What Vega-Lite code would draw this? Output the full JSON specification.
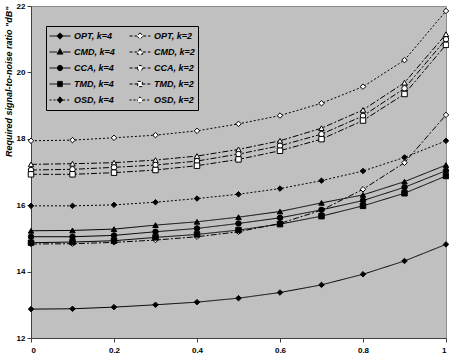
{
  "$schema": "https://vega.github.io/schema/vega-lite/v6.json",
  "width": 415,
  "height": 332,
  "autosize": "none",
  "padding": {"left": 31, "top": 6, "right": 3, "bottom": 21},
  "background": "white",
  "config": {
    "font": "Liberation Sans",
    "view": {"fill": "#C0C0C0", "stroke": "#8C8C8C"},
    "axis": {"grid": false, "domainColor": "#404040", "tickColor": "#404040", "labelFont": "Liberation Sans", "labelFontWeight": "bold", "labelFontSize": 8, "labelColor": "black", "tickSize": 4}
  },
  "data": {"values": [
    {"x":0,"v":12.87,"s":"OPT, k=4"},{"x":0.1,"v":12.88,"s":"OPT, k=4"},{"x":0.2,"v":12.93,"s":"OPT, k=4"},{"x":0.3,"v":13.0,"s":"OPT, k=4"},{"x":0.4,"v":13.08,"s":"OPT, k=4"},{"x":0.5,"v":13.2,"s":"OPT, k=4"},{"x":0.6,"v":13.37,"s":"OPT, k=4"},{"x":0.7,"v":13.6,"s":"OPT, k=4"},{"x":0.8,"v":13.92,"s":"OPT, k=4"},{"x":0.9,"v":14.32,"s":"OPT, k=4"},{"x":1,"v":14.82,"s":"OPT, k=4"},
    {"x":0,"v":14.83,"s":"OPT, k=2"},{"x":0.1,"v":14.84,"s":"OPT, k=2"},{"x":0.2,"v":14.88,"s":"OPT, k=2"},{"x":0.3,"v":14.95,"s":"OPT, k=2"},{"x":0.4,"v":15.05,"s":"OPT, k=2"},{"x":0.5,"v":15.2,"s":"OPT, k=2"},{"x":0.6,"v":15.45,"s":"OPT, k=2"},{"x":0.7,"v":15.85,"s":"OPT, k=2"},{"x":0.8,"v":16.48,"s":"OPT, k=2"},{"x":0.9,"v":17.28,"s":"OPT, k=2"},{"x":1,"v":18.72,"s":"OPT, k=2"},
    {"x":0,"v":15.23,"s":"CMD, k=4"},{"x":0.1,"v":15.24,"s":"CMD, k=4"},{"x":0.2,"v":15.28,"s":"CMD, k=4"},{"x":0.3,"v":15.4,"s":"CMD, k=4"},{"x":0.4,"v":15.5,"s":"CMD, k=4"},{"x":0.5,"v":15.64,"s":"CMD, k=4"},{"x":0.6,"v":15.81,"s":"CMD, k=4"},{"x":0.7,"v":16.07,"s":"CMD, k=4"},{"x":0.8,"v":16.31,"s":"CMD, k=4"},{"x":0.9,"v":16.71,"s":"CMD, k=4"},{"x":1,"v":17.21,"s":"CMD, k=4"},
    {"x":0,"v":17.23,"s":"CMD, k=2"},{"x":0.1,"v":17.25,"s":"CMD, k=2"},{"x":0.2,"v":17.28,"s":"CMD, k=2"},{"x":0.3,"v":17.36,"s":"CMD, k=2"},{"x":0.4,"v":17.48,"s":"CMD, k=2"},{"x":0.5,"v":17.68,"s":"CMD, k=2"},{"x":0.6,"v":17.94,"s":"CMD, k=2"},{"x":0.7,"v":18.32,"s":"CMD, k=2"},{"x":0.8,"v":18.87,"s":"CMD, k=2"},{"x":0.9,"v":19.69,"s":"CMD, k=2"},{"x":1,"v":21.15,"s":"CMD, k=2"},
    {"x":0,"v":15.05,"s":"CCA, k=4"},{"x":0.1,"v":15.05,"s":"CCA, k=4"},{"x":0.2,"v":15.09,"s":"CCA, k=4"},{"x":0.3,"v":15.2,"s":"CCA, k=4"},{"x":0.4,"v":15.3,"s":"CCA, k=4"},{"x":0.5,"v":15.45,"s":"CCA, k=4"},{"x":0.6,"v":15.62,"s":"CCA, k=4"},{"x":0.7,"v":15.86,"s":"CCA, k=4"},{"x":0.8,"v":16.14,"s":"CCA, k=4"},{"x":0.9,"v":16.54,"s":"CCA, k=4"},{"x":1,"v":17.04,"s":"CCA, k=4"},
    {"x":0,"v":17.06,"s":"CCA, k=2"},{"x":0.1,"v":17.08,"s":"CCA, k=2"},{"x":0.2,"v":17.14,"s":"CCA, k=2"},{"x":0.3,"v":17.21,"s":"CCA, k=2"},{"x":0.4,"v":17.33,"s":"CCA, k=2"},{"x":0.5,"v":17.54,"s":"CCA, k=2"},{"x":0.6,"v":17.79,"s":"CCA, k=2"},{"x":0.7,"v":18.14,"s":"CCA, k=2"},{"x":0.8,"v":18.69,"s":"CCA, k=2"},{"x":0.9,"v":19.52,"s":"CCA, k=2"},{"x":1,"v":21.0,"s":"CCA, k=2"},
    {"x":0,"v":14.87,"s":"TMD, k=4"},{"x":0.1,"v":14.89,"s":"TMD, k=4"},{"x":0.2,"v":14.93,"s":"TMD, k=4"},{"x":0.3,"v":15.03,"s":"TMD, k=4"},{"x":0.4,"v":15.12,"s":"TMD, k=4"},{"x":0.5,"v":15.25,"s":"TMD, k=4"},{"x":0.6,"v":15.43,"s":"TMD, k=4"},{"x":0.7,"v":15.67,"s":"TMD, k=4"},{"x":0.8,"v":15.98,"s":"TMD, k=4"},{"x":0.9,"v":16.36,"s":"TMD, k=4"},{"x":1,"v":16.88,"s":"TMD, k=4"},
    {"x":0,"v":16.93,"s":"TMD, k=2"},{"x":0.1,"v":16.93,"s":"TMD, k=2"},{"x":0.2,"v":16.98,"s":"TMD, k=2"},{"x":0.3,"v":17.06,"s":"TMD, k=2"},{"x":0.4,"v":17.19,"s":"TMD, k=2"},{"x":0.5,"v":17.38,"s":"TMD, k=2"},{"x":0.6,"v":17.64,"s":"TMD, k=2"},{"x":0.7,"v":17.99,"s":"TMD, k=2"},{"x":0.8,"v":18.55,"s":"TMD, k=2"},{"x":0.9,"v":19.35,"s":"TMD, k=2"},{"x":1,"v":20.83,"s":"TMD, k=2"},
    {"x":0,"v":15.98,"s":"OSD, k=4"},{"x":0.1,"v":15.98,"s":"OSD, k=4"},{"x":0.2,"v":16.01,"s":"OSD, k=4"},{"x":0.3,"v":16.09,"s":"OSD, k=4"},{"x":0.4,"v":16.2,"s":"OSD, k=4"},{"x":0.5,"v":16.33,"s":"OSD, k=4"},{"x":0.6,"v":16.5,"s":"OSD, k=4"},{"x":0.7,"v":16.74,"s":"OSD, k=4"},{"x":0.8,"v":17.03,"s":"OSD, k=4"},{"x":0.9,"v":17.44,"s":"OSD, k=4"},{"x":1,"v":17.94,"s":"OSD, k=4"},
    {"x":0,"v":17.94,"s":"OSD, k=2"},{"x":0.1,"v":17.96,"s":"OSD, k=2"},{"x":0.2,"v":18.03,"s":"OSD, k=2"},{"x":0.3,"v":18.11,"s":"OSD, k=2"},{"x":0.4,"v":18.24,"s":"OSD, k=2"},{"x":0.5,"v":18.45,"s":"OSD, k=2"},{"x":0.6,"v":18.7,"s":"OSD, k=2"},{"x":0.7,"v":19.07,"s":"OSD, k=2"},{"x":0.8,"v":19.57,"s":"OSD, k=2"},{"x":0.9,"v":20.37,"s":"OSD, k=2"},{"x":1,"v":21.85,"s":"OSD, k=2"}
  ]},
  "encoding": {
    "x": {"field": "x", "type": "quantitative", "scale": {"domain": [0, 1], "nice": false, "zero": false},
      "axis": {"title": null, "values": [0, 0.2, 0.4, 0.6, 0.8, 1], "format": ".1~f", "labelPadding": 4}},
    "y": {"field": "v", "type": "quantitative", "scale": {"domain": [12, 22], "nice": false, "zero": false},
      "axis": {"title": "Required signal-to-noise ratio \"dB\"", "values": [12, 14, 16, 18, 20, 22], "format": "d", "labelPadding": 2,
        "titleFont": "Liberation Sans", "titleFontSize": 9, "titleFontWeight": "bold", "titleFontStyle": "italic", "titleAnchor": "end", "titlePadding": 3, "titleColor": "black"}}
  },
  "layer": [
    {
      "mark": {"type": "line", "color": "black", "strokeWidth": 1},
      "encoding": {
        "detail": {"field": "s"},
        "strokeDash": {"field": "s", "type": "nominal", "legend": null,
          "scale": {"domain": ["OPT, k=4","OPT, k=2","CMD, k=4","CMD, k=2","CCA, k=4","CCA, k=2","TMD, k=4","TMD, k=2","OSD, k=4","OSD, k=2"],
            "range": [[1,0],[6,2,2,2],[1,0],[6,2,2,2],[1,0],[6,2,2,2],[1,0],[6,2,2,2],[2,2],[2,2]]}}
      }
    },
    {
      "mark": {"type": "point", "filled": true, "stroke": "black", "strokeWidth": 1, "size": 30, "opacity": 1},
      "encoding": {
        "shape": {"field": "s", "type": "nominal", "legend": null,
          "scale": {"domain": ["OPT, k=4","OPT, k=2","CMD, k=4","CMD, k=2","CCA, k=4","CCA, k=2","TMD, k=4","TMD, k=2","OSD, k=4","OSD, k=2"],
            "range": ["diamond","diamond","triangle-up","triangle-up","circle","circle","square","square","diamond","diamond"]}},
        "fill": {"field": "s", "type": "nominal", "legend": null,
          "scale": {"domain": ["OPT, k=4","OPT, k=2","CMD, k=4","CMD, k=2","CCA, k=4","CCA, k=2","TMD, k=4","TMD, k=2","OSD, k=4","OSD, k=2"],
            "range": ["black","white","black","white","black","white","black","white","black","white"]}}
      }
    },
    {
      "transform": [{"filter": "datum.x > 5"}],
      "mark": {"type": "point", "filled": true, "strokeWidth": 1, "size": 440, "opacity": 1},
      "encoding": {
        "shape": {"field": "s", "type": "nominal",
          "scale": {"domain": ["OPT, k=4","CMD, k=4","CCA, k=4","TMD, k=4","OSD, k=4","OPT, k=2","CMD, k=2","CCA, k=2","TMD, k=2","OSD, k=2"],
            "range": [
              "M-1,0H-0.3M0.3,0H1M0,-0.3L0.3,0L0,0.3L-0.3,0Z",
              "M-1,0H-0.28M0.28,0H1M0,-0.32L0.28,0.2L-0.28,0.2Z",
              "M-1,0H-0.25M0.25,0H1M-0.25,0A0.25,0.25 0 1,0 0.25,0A0.25,0.25 0 1,0 -0.25,0Z",
              "M-1,0H-0.22M0.22,0H1M-0.22,-0.25H0.22V0.25H-0.22Z",
              "M-1,0H-0.3M0.3,0H1M0,-0.3L0.3,0L0,0.3L-0.3,0Z",
              "M-1,0H-0.3M0.3,0H1M0,-0.3L0.3,0L0,0.3L-0.3,0Z",
              "M-1,0H-0.28M0.28,0H1M0,-0.32L0.28,0.2L-0.28,0.2Z",
              "M-1,0H-0.25M0.25,0H1M-0.25,0A0.25,0.25 0 1,0 0.25,0A0.25,0.25 0 1,0 -0.25,0Z",
              "M-1,0H-0.22M0.22,0H1M-0.22,-0.25H0.22V0.25H-0.22Z",
              "M-1,0H-0.3M0.3,0H1M0,-0.3L0.3,0L0,0.3L-0.3,0Z"]},
          "legend": {"orient": "none", "legendX": 15, "legendY": 20, "columns": 2, "title": null, "fillColor": "#C0C0C0", "strokeColor": "black", "padding": 3, "columnPadding": 14, "rowPadding": 2, "clipHeight": 14, "labelFont": "Liberation Sans", "labelFontSize": 9, "labelFontWeight": "bold", "labelFontStyle": "italic", "labelColor": "black", "labelOffset": 3, "symbolSize": 440, "symbolStrokeWidth": 1,
            "encode": {"symbols": {"stroke": {"value": "black"}, "strokeWidth": {"value": 1}}}}},
        "stroke": {"field": "s", "type": "nominal",
          "scale": {"domain": ["OPT, k=4","CMD, k=4","CCA, k=4","TMD, k=4","OSD, k=4","OPT, k=2","CMD, k=2","CCA, k=2","TMD, k=2","OSD, k=2"],
            "range": ["black","black","black","black","black","black","black","black","black","black"]}},
        "fill": {"field": "s", "type": "nominal",
          "scale": {"domain": ["OPT, k=4","CMD, k=4","CCA, k=4","TMD, k=4","OSD, k=4","OPT, k=2","CMD, k=2","CCA, k=2","TMD, k=2","OSD, k=2"],
            "range": ["black","black","black","black","black","white","white","white","white","white"]}},
        "strokeDash": {"field": "s", "type": "nominal",
          "scale": {"domain": ["OPT, k=4","CMD, k=4","CCA, k=4","TMD, k=4","OSD, k=4","OPT, k=2","CMD, k=2","CCA, k=2","TMD, k=2","OSD, k=2"],
            "range": [[1,0],[1,0],[1,0],[1,0],[2,2],[3,2],[3,2],[3,2],[3,2],[2,2]]}}
      }
    }
  ],
  "resolve": {"scale": {"shape": "independent", "fill": "independent", "strokeDash": "independent", "stroke": "independent"}}
}
